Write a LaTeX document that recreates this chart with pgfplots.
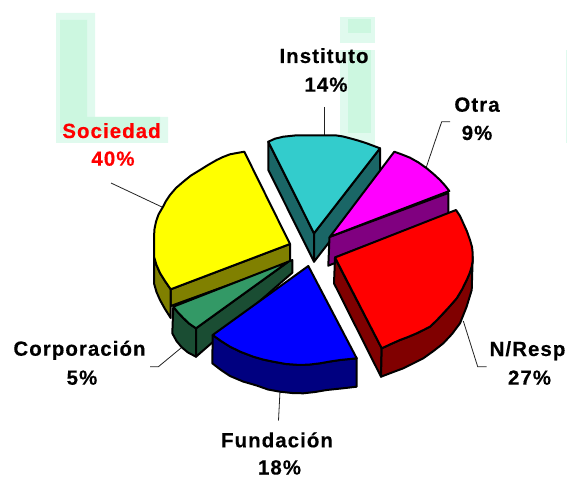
\documentclass[border=0pt]{standalone}
\usepackage{fontspec}
\usepackage{pgfplots}
\pgfplotsset{compat=1.18}
\newfontfamily\lab[LetterSpace=5.0,BoldFeatures={FakeBold=0.3}]{Liberation Sans}
\definecolor{paleA}{HTML}{E0FAEE}
\definecolor{paleB}{HTML}{CCF7E0}
\definecolor{cyanT}{HTML}{33CCCC}
\definecolor{cyanS}{HTML}{1A6666}
\definecolor{greenT}{HTML}{339966}
\definecolor{greenS}{HTML}{1A4D33}
\definecolor{yelT}{HTML}{FFFF00}
\definecolor{yelS}{HTML}{808000}
\definecolor{magT}{HTML}{FF00FF}
\definecolor{magS}{HTML}{800080}
\definecolor{redT}{HTML}{FF0000}
\definecolor{redS}{HTML}{800000}
\definecolor{bluT}{HTML}{0000FF}
\definecolor{bluS}{HTML}{000080}
\definecolor{leadC}{HTML}{222222}
\pgfplotsset{
  top/.style={fill=#1,draw=black,line width=2pt,line join=round},
  lead/.style={draw=leadC,line width=0.8pt,no marks},
  pale/.style={fill=#1,draw=none,no marks},
}
\newcommand{\lbl}[4][black]{\node[anchor=base,text=#1,inner sep=0pt,font=\lab\bfseries\fontsize{20.5}{24}\selectfont] at (axis cs:#2,#3) {#4};}
\begin{document}
\begin{tikzpicture}
\begin{axis}[
  scale only axis,width=567pt,height=478pt,
  xmin=0,xmax=567,ymin=0,ymax=478,y dir=reverse,
  hide axis,clip=false,no marks]
\addplot[draw=none,no marks] coordinates {(0,0)(567,478)};
% pale background letters
\addplot[pale=paleA] coordinates {(56,13)(95,13)(95,117)(168,117)(168,143)(56,143)} --cycle;
\addplot[pale=paleB] coordinates {(60,20)(87,20)(87,117)(160,117)(160,133)(60,133)} --cycle;
\addplot[pale=paleA] coordinates {(340,17)(375,17)(375,43)(340,43)} --cycle;
\addplot[pale=paleB] coordinates {(348,19)(371,19)(371,33)(348,33)} --cycle;
\addplot[pale=paleA] coordinates {(340,50)(375,50)(375,145)(340,145)} --cycle;
\addplot[pale=paleB] coordinates {(348,50)(371,50)(371,133)(348,133)} --cycle;
\addplot[pale=paleA] coordinates {(566,50)(567,50)(567,143)(566,143)} --cycle;
% leader lines
\addplot[lead] coordinates {(324.4,107)(324.4,136)};
\addplot[lead] coordinates {(450,121.7)(441.7,121.7)(426,168)};
\addplot[lead] coordinates {(111,183)(163,207.5)};
\addplot[lead] coordinates {(150,366.7)(158.4,366.7)(181,348)};
\addplot[lead] coordinates {(280,391)(278.5,420.5)};
\addplot[lead] coordinates {(463.3,321)(477.7,366.7)(486.7,366.7)};
% Instituto
\addplot[top=cyanS] coordinates {(268.3,141.7)(268.3,170)(314,261.7)(314,233.3)} --cycle;
\addplot[top=cyanS] coordinates {(314,233.3)(314,261.7)(380,176.7)(380,148.3)} --cycle;
\addplot[top=cyanT] coordinates {(314,233.3)(268.3,141.7)(275,138.7)(283.3,136.7)(296.7,135.3)(336.7,135.5)(343,136.5)(350,138.3)(358,140.5)(366.7,143.3)(380,148.3)} --cycle;
% Otra
\addplot[top=magS] coordinates {(329.5,237)(448.3,193)(448.3,214)(335,257.5)(335,263)(328.3,265.7)} --cycle;
\addplot[top=magT] coordinates {(330,236.7)(394.3,151.7)(402,154.5)(410,157.7)(418.5,162.5)(426.7,168.3)(433.5,174)(440,180)(445,185.5)(449.3,191)} --cycle;
% Sociedad
\addplot[top=yelS] coordinates {(170.7,289.3)(290,244)(290,262.7)(170.7,306)} --cycle;
\addplot[top=yelS] coordinates {(154,256.7)(154,283.3)(156.5,292)(160,300)(165,309)(170.7,318)(170.7,289.3)(165,281)(160,273)(156.5,265)} --cycle;
\addplot[top=yelT] coordinates {(290,244)(244.3,151.7)(237,153)(230,154.3)(223,157)(216.7,160)(208,165)(200,170)(191,175.5)(183.3,181.7)(176,188)(170,195)(166,201)(162.7,207.3)(158.5,214.5)(156,221.7)(154.5,229)(154,236.7)(154,256.7)(156.5,265)(160,273)(165,281)(170.7,289.3)} --cycle;
% Corporacion
\addplot[top=greenS] coordinates {(173.3,306.7)(172.3,333.3)(176.5,341)(181.7,347.3)(188,352.5)(196,356.7)(196,328.3)(189,323.5)(183.3,318)(178,312.5)} --cycle;
\addplot[top=greenS] coordinates {(196,328.3)(196,356.7)(292.3,272.7)(292.3,260)(288.3,261.7)} --cycle;
\addplot[top=greenT] coordinates {(173.3,306.7)(288.3,261.7)(196,328.3)(189,323.5)(183.3,318)(178,312.5)} --cycle;
% Fundacion
\addplot[top=bluS] coordinates {(212.7,335)(212.3,363.3)(221,370)(230,376)(243,381.5)(256.7,385.5)(268,389.5)(280,391.7)(292,393)(303.3,393.3)(315,392)(326.7,390)(341,388.5)(356.7,386.7)(356.7,358.3)(340,360)(330,361.5)(320,363.3)(310,364.5)(300,365)(286,364)(273.3,361.7)(263,359.5)(253.3,356.7)(241,352)(230,346.7)(221,341)} --cycle;
\addplot[top=bluT] coordinates {(308.3,266)(356.7,358.3)(340,360)(330,361.5)(320,363.3)(310,364.5)(300,365)(286,364)(273.3,361.7)(263,359.5)(253.3,356.7)(241,352)(230,346.7)(221,341)(212.7,335)} --cycle;
% N/Resp
\addplot[top=redS] coordinates {(335,258)(334,283.3)(381,376.7)(381.7,348.3)} --cycle;
\addplot[top=redS] coordinates {(381.7,348.3)(381,376.7)(392,372.5)(403.3,368.3)(413,363.5)(423.3,358.3)(433.5,351)(443.3,343.3)(452,334)(460,323.3)(466.5,307)(471.7,290)(472.7,256.7)(471.7,266.7)(469.5,273.5)(466.7,280)(462,289.5)(456.7,298.3)(450,306)(443.3,313.3)(436.5,320.5)(430,326.7)(423.5,330)(416.7,333.3)(408,337)(400,340)(391,344)} --cycle;
\addplot[top=redT] coordinates {(335,257.5)(456,210)(460,216)(463.3,223.3)(467,231.5)(470,240)(472,247)(472.7,253.3)(472.7,256.7)(472.5,262)(471.7,266.7)(469.5,273.5)(466.7,280)(462,289.5)(456.7,298.3)(450,306)(443.3,313.3)(436.5,320.5)(430,326.7)(423.5,330)(416.7,333.3)(408,337)(400,340)(391,344)(381.7,348.3)} --cycle;
% labels
\lbl{324}{63}{Instituto}
\lbl{326}{91.7}{14\%}
\lbl{477}{111.7}{Otra}
\lbl{477}{140}{9\%}
\lbl[red]{111.5}{138}{Sociedad}
\lbl[red]{113}{165.7}{40\%}
\lbl{79.5}{355.7}{Corporación}
\lbl{82}{384.7}{5\%}
\lbl{277}{447.3}{Fundación}
\lbl{279.5}{474.5}{18\%}
\lbl{527.5}{356}{N/Resp}
\lbl{529.5}{384.7}{27\%}
\end{axis}
\end{tikzpicture}
\end{document}
